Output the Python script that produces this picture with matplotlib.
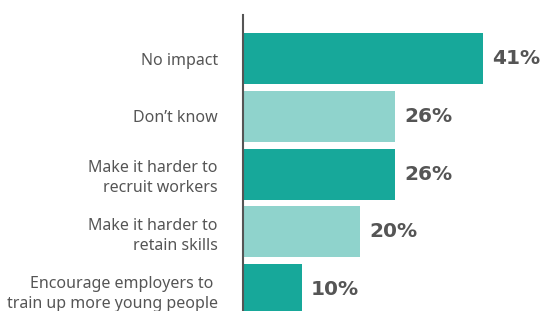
import matplotlib.pyplot as plt
import numpy as np

labels = ['No impact', "Don\u2019t know", 'Make it harder to\nrecruit workers',
          'Make it harder to\nretain skills',
          'Encourage employers to \ntrain up more young people']
values = [41, 26, 26, 20, 10]
colors = ['#17a89a', '#8fd3cc', '#17a89a', '#8fd3cc', '#17a89a']

plt.rcParams['font.family'] = ['Noto Sans', 'DejaVu Sans']

fig = plt.figure(figsize=(5.44, 3.11), dpi=100)
ax = fig.add_axes([243 / 544, 0, 301 / 544, 296 / 311])

y = np.arange(len(values))
ax.barh(y, values, height=0.88, color=colors)
ax.set_xlim(0, 301 / 5.85)
ax.set_ylim(4.368, -0.753)

for yi, v in zip(y, values):
    ax.text(v + 1.6, yi, f'{v}%', va='center', ha='left', family='DejaVu Sans',
            fontsize=14.5, fontweight='bold', color='#555555')

ax.set_yticks(y)
ax.set_yticklabels(labels, fontsize=11.5, color='#555555', linespacing=1.35)
ax.tick_params(axis='y', length=0, pad=18)
ax.set_xticks([])
for s in ['top', 'right', 'bottom']:
    ax.spines[s].set_visible(False)
ax.spines['left'].set_color('#555555')
ax.spines['left'].set_linewidth(1.5)

fig.savefig('out.png', dpi=100)
